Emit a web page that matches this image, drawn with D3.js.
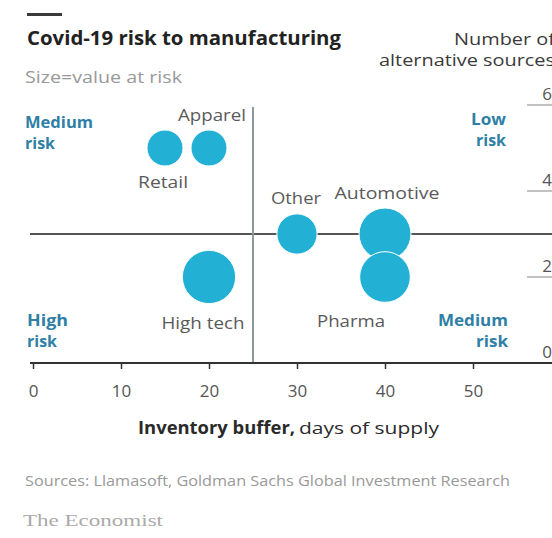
<!DOCTYPE html>
<html>
<head>
<meta charset="utf-8">
<script src="https://cdn.jsdelivr.net/npm/d3@7"></script>
<style>
  html, body { margin: 0; padding: 0; background: #fff; }
  svg { display: block; }
  text { font-family: "Open Sans", Lato, sans-serif; }
</style>
</head>
<body>
<svg id="chart" width="552" height="538"></svg>
<script>
// ---- Data ----
const categories    = ["Retail", "Apparel", "Other", "Automotive", "Pharma", "High tech"];
const inventoryDays = [15, 20, 30, 40, 40, 20];          // x: inventory buffer, days of supply
const altSources    = [5, 5, 3, 3, 2, 2];                // y: number of alternative sources
const valueAtRisk   = [48, 48, 60, 100, 95, 105];        // bubble size (relative)
const xTicks = [0, 10, 20, 30, 40, 50];
const yTicks = [0, 2, 4, 6];
const xThreshold = 25;
const yThreshold = 3;
const quadrantLabels = [["Medium", "risk"], ["Low", "risk"], ["High", "risk"], ["Medium", "risk"]];

// ---- Layout ----
const W = 552, H = 538;
const svg = d3.select("#chart");
const x = d3.scaleLinear().domain([0, 50]).range([33, 473]);
const y = d3.scaleLinear().domain([0, 6]).range([363, 105]);
const r = d3.scaleSqrt().domain([0, 100]).range([0, 26]);

// label placement relative to bubble centre: [dx, dy, width]
const labelLayout = {
  "Retail":     [-2, 40, 50],
  "Apparel":    [3, -27, 68],
  "Other":      [-1, -30, 50],
  "Automotive": [2, -35, 105],
  "Pharma":     [-34, 50, 68],
  "High tech":  [-6, 52, 83]
};

function fit(sel, w) { return sel.attr("textLength", w).attr("lengthAdjust", "spacingAndGlyphs"); }

// header bar
svg.append("rect").attr("x", 27).attr("y", 13).attr("width", 35).attr("height", 3).attr("fill", "#3a3a3a");

fit(svg.append("text").attr("x", 27).attr("y", 45)
  .attr("font-size", 20).attr("font-weight", 700).attr("fill", "#222")
  .text("Covid-19 risk to manufacturing"), 314);

fit(svg.append("text").attr("x", 25).attr("y", 83)
  .attr("font-size", 16).attr("fill", "#999")
  .text("Size=value at risk"), 157);

fit(svg.append("text").attr("x", 454).attr("y", 45)
  .attr("font-size", 16).attr("fill", "#3a3a3a").text("Number of"), 101);
fit(svg.append("text").attr("x", 379).attr("y", 66)
  .attr("font-size", 16).attr("fill", "#3a3a3a").text("alternative sources"), 176);

// y axis ticks on the right
const yg = svg.append("g");
yg.selectAll("line").data(yTicks.filter(d => d > 0)).join("line")
  .attr("x1", 527).attr("x2", W)
  .attr("y1", d => y(d)).attr("y2", d => y(d))
  .attr("stroke", "#999").attr("stroke-width", 1.2);
yg.selectAll("text").data(yTicks).join("text")
  .attr("x", 552).attr("y", d => y(d) - 5)
  .attr("text-anchor", "end").attr("font-size", 17).attr("fill", "#555")
  .text(d => d);

// threshold lines
svg.append("line")
  .attr("x1", 30).attr("x2", W)
  .attr("y1", y(yThreshold)).attr("y2", y(yThreshold))
  .attr("stroke", "#555").attr("stroke-width", 2);
svg.append("line")
  .attr("x1", x(xThreshold)).attr("x2", x(xThreshold))
  .attr("y1", 107).attr("y2", y(0))
  .attr("stroke", "#8c9a9c").attr("stroke-width", 2);

// x axis
const xAxis = d3.axisBottom(x).tickValues(xTicks).tickSize(6).tickPadding(16);
const xg = svg.append("g").attr("transform", `translate(0,${y(0)})`).call(xAxis);
xg.select(".domain").remove();
xg.selectAll(".tick line").attr("stroke", "#333").attr("stroke-width", 1.5);
xg.selectAll(".tick text").attr("font-size", 17).attr("fill", "#555")
  .attr("font-family", "'Open Sans', sans-serif");
svg.append("line").attr("x1", 30).attr("x2", W).attr("y1", y(0)).attr("y2", y(0))
  .attr("stroke", "#333").attr("stroke-width", 2);

// axis title
const at = svg.append("text").attr("x", 138).attr("y", 434)
  .attr("font-size", 17).attr("fill", "#2a2a2a");
fit(at.append("tspan").attr("font-weight", 700).text("Inventory buffer,"), 157);
fit(at.append("tspan").attr("x", 299).text("days of supply"), 140);

// quadrant labels
const qpos = [
  {x: 25, y: 128, anchor: "start", w: [68, 30]},
  {x: 506, y: 125, anchor: "end", w: [35, 30]},
  {x: 27, y: 326, anchor: "start", w: [41, 30]},
  {x: 508, y: 326, anchor: "end", w: [70, 32]}
];
quadrantLabels.forEach((lines, i) => {
  const t = svg.append("text").attr("x", qpos[i].x).attr("y", qpos[i].y)
    .attr("text-anchor", qpos[i].anchor).attr("font-size", 16).attr("font-weight", 700)
    .attr("fill", "#2f7fa6");
  lines.forEach((l, j) => fit(t.append("tspan").attr("x", qpos[i].x).attr("dy", j ? 21 : 0).text(l), qpos[i].w[j]));
});

// bubbles
const data = categories.map((c, i) => ({c, xv: inventoryDays[i], yv: altSources[i], v: valueAtRisk[i]}));
svg.append("g").selectAll("circle").data(data).join("circle")
  .attr("cx", d => x(d.xv)).attr("cy", d => y(d.yv)).attr("r", d => r(d.v))
  .attr("fill", "#22b0d4").attr("stroke", "#ffffff").attr("stroke-width", 1);

svg.append("g").selectAll("text").data(data).join("text")
  .attr("x", d => x(d.xv) + labelLayout[d.c][0])
  .attr("y", d => y(d.yv) + labelLayout[d.c][1])
  .attr("text-anchor", "middle").attr("font-size", 16).attr("fill", "#5a5a5a")
  .attr("textLength", d => labelLayout[d.c][2]).attr("lengthAdjust", "spacingAndGlyphs")
  .text(d => d.c);

// footer
fit(svg.append("text").attr("x", 25).attr("y", 486).attr("font-size", 15).attr("fill", "#999")
  .text("Sources: Llamasoft, Goldman Sachs Global Investment Research"), 485);
fit(svg.append("text").attr("x", 23).attr("y", 526).attr("font-size", 17).attr("fill", "#aaa")
  .style("font-family", "'Liberation Serif', 'DejaVu Serif', serif")
  .text("The Economist"), 140);
</script>
</body>
</html>
